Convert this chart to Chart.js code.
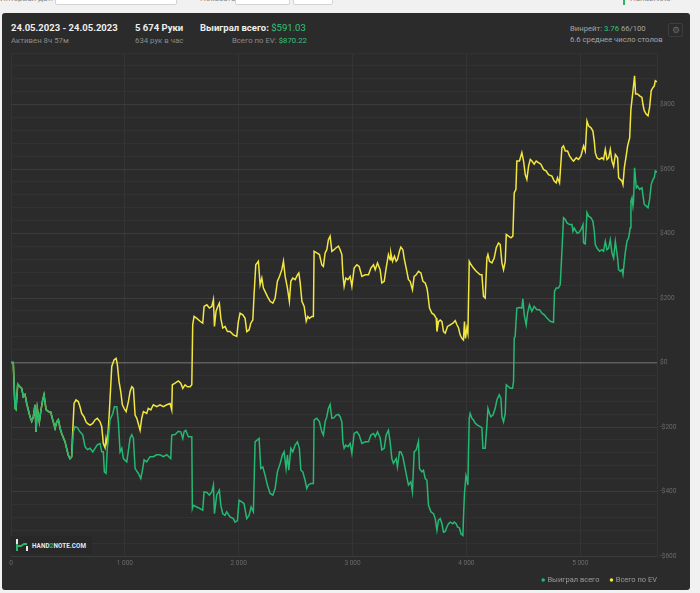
<!DOCTYPE html>
<html lang="ru">
<head>
<meta charset="utf-8">
<title>Hand2Note - график</title>
<script src="https://cdn.jsdelivr.net/npm/chart.js@4.4.1/dist/chart.umd.min.js"></script>
<style>
  body { margin: 0; width: 700px; height: 593px; overflow: hidden; position: relative; background: #f1f1f1; font-family: Roboto, "Noto Sans", Arial, sans-serif; }
  .top { position: absolute; top: -6px; font-size: 8px; color: #8a8a8a; white-space: nowrap; }
  .btn { position: absolute; top: -9px; height: 14px; background: #fff; border: 1px solid #d4d4d4; border-radius: 2px; box-sizing: border-box; }
  #panel { position: absolute; left: 2px; top: 13px; width: 688px; height: 577px; background: #2b2b2b; border-radius: 3px; }
  .t { position: absolute; white-space: nowrap; line-height: 1; }
  .big { font-size: 9.5px; font-weight: bold; color: #eeeeee; }
  .small { font-size: 7.8px; color: #8c8c8c; }
  .right { font-size: 7.7px; color: #a5a5a5; }
  .g { color: #33c47b; font-weight: normal; }
  #gear { position: absolute; left: 668px; top: 23px; width: 15px; height: 14px; border: 1px solid #3d3d3d; border-radius: 2px; box-sizing: border-box; color: #6a6a6a; font-size: 9px; line-height: 12px; text-align: center; }
  #logo { position: absolute; left: 11px; top: 536px; width: 81px; height: 18px; background: #282828; }
  #logo span { position: absolute; left: 21px; top: 6px; font-size: 6.3px; font-weight: bold; color: #e8e8e8; letter-spacing: 0.1px; }
  #wrap { position: absolute; left: 0; top: 40px; width: 690px; height: 559px; }
</style>
</head>
<body>
<!-- кусок панели инструментов сверху, обрезан -->
<div class="top" style="left:0">Интервал дат:</div>
<div class="btn" style="left:55px;width:122px"></div>
<div class="top" style="left:200px">Показать:</div>
<div class="btn" style="left:235px;width:55px"></div>
<div class="btn" style="left:293px;width:40px"></div>
<div style="position:absolute;left:623px;top:-2px;width:2px;height:7px;background:#2fb36a"></div>
<div class="top" style="left:630px">Hand2Note</div>

<div id="panel"></div>

<div class="t big" style="left:11px;top:23px">24.05.2023 - 24.05.2023</div>
<div class="t small" style="left:11px;top:37px">Активен 8ч 57м</div>
<div class="t big" style="left:135px;top:23px">5 674 Руки</div>
<div class="t small" style="left:135px;top:37px">634 рук в час</div>
<div class="t big" style="left:200px;top:23px">Выиграл всего: <span class="g">$591.03</span></div>
<div class="t small" style="right:393px;top:37px">Всего по EV: <span class="g">$870.22</span></div>
<div class="t right" style="left:570px;top:25px">Винрейт: <span class="g">3.76</span> 66/100</div>
<div class="t right" style="left:570px;top:36px">6.6 среднее число столов</div>
<div id="gear">&#9881;</div>

<div id="wrap"><canvas id="graph"></canvas></div>

<div id="logo">
  <svg width="14" height="14" style="position:absolute;left:4px;top:2px" viewBox="0 0 14 14">
    <path d="M2 1 V6" stroke="#e8e8e8" stroke-width="2" fill="none"/>
    <path d="M2 6 V13 M2 8 H6 L9 6 H12" stroke="#2fb36a" stroke-width="2" fill="none"/>
    <path d="M12 8 V13" stroke="#e8e8e8" stroke-width="2" fill="none"/>
  </svg>
  <span>HAND<span style="position:static;color:#2fb36a">2</span>NOTE.COM</span>
</div>

<script>
// Выиграл всего: руки / доллары
const wonHands = [
  0,20,35,44,59,79,94,108,123,138,
  167,182,196,211,220,231,249,261,279,290,
  308,328,349,366,387,402,416,431,445,475,
  503,518,533,547,562,583,606,630,650,671,
  694,718,738,758,782,797,811,820,835,846,
  870,894,908,929,943,958,973,987,1017,1046,
  1061,1075,1090,1119,1140,1157,1169,1192,1221,1250,
  1280,1309,1338,1368,1403,1412,1441,1470,1491,1509,
  1520,1535,1558,1588,1593,1602,1632,1661,1684,1696,
  1720,1742,1764,1778,1787,1807,1830,1843,1860,1880,
  1895,1924,1953,1968,1989,2003,2027,2047,2071,2091,
  2109,2129,2144,2164,2179,2194,2212,2232,2252,2276,
  2300,2320,2340,2364,2384,2399,2416,2428,2440,2458,
  2475,2496,2516,2533,2546,2563,2583,2598,2612,2634,
  2656,2662,2686,2709,2730,2744,2759,2774,2788,2803,
  2818,2838,2856,2876,2891,2906,2915,2926,2941,2959,
  2979,2994,3014,3038,3058,3082,3111,3140,3161,3184,
  3199,3219,3242,3257,3278,3295,3315,3330,3345,3359,
  3383,3394,3412,3424,3442,3462,3491,3512,3526,3541,
  3559,3570,3579,3588,3609,3623,3638,3653,3667,3688,
  3711,3726,3741,3755,3770,3785,3799,3814,3828,3843,
  3858,3881,3893,3910,3922,3939,3952,3969,3974,3983,
  3996,4004,4013,4018,4025,4033,4048,4062,4077,4097,
  4121,4136,4145,4165,4180,4189,4203,4215,4233,4253,
  4268,4288,4303,4312,4326,4341,4350,4370,4385,4405,
  4414,4420,4428,4443,4466,4487,4496,4508,4525,4537,
  4554,4575,4595,4619,4642,4663,4684,4707,4736,4765,
  4774,4789,4809,4824,4839,4853,4868,4883,4906,4927,
  4936,4947,4971,4985,5006,5024,5029,5044,5059,5073,
  5094,5111,5123,5132,5147,5169,5190,5205,5220,5235,
  5249,5264,5278,5293,5308,5328,5337,5351,5366,5375,
  5387,5395,5410,5425,5439,5445,5454,5463,5468,5477,
  5492,5503,5521,5542,5550,5562,5580,5595,5609,5623,
  5639,5650,5659,5674
];
const wonValues = [
  0,0,-142,-146,-67,-75,-80,-106,-99,-127,
  -168,-182,-168,-131,-215,-142,-184,-152,-115,-100,
  -146,-152,-154,-177,-204,-184,-177,-204,-220,-246,
  -287,-298,-292,-215,-199,-202,-215,-224,-261,-270,
  -266,-277,-266,-255,-251,-277,-277,-339,-344,-266,
  -177,-158,-137,-137,-184,-277,-266,-298,-308,-235,
  -224,-235,-329,-344,-360,-329,-302,-308,-292,-292,
  -286,-286,-292,-286,-298,-225,-223,-213,-215,-236,
  -215,-210,-230,-230,-453,-443,-448,-453,-458,-401,
  -403,-411,-401,-380,-469,-411,-396,-443,-469,-474,
  -463,-479,-484,-495,-490,-427,-432,-438,-484,-474,
  -448,-463,-246,-240,-235,-329,-324,-350,-380,-406,
  -411,-391,-339,-313,-287,-277,-329,-287,-334,-266,
  -277,-256,-246,-266,-334,-339,-365,-391,-380,-375,
  -375,-178,-173,-184,-215,-225,-184,-168,-142,-130,
  -173,-171,-163,-161,-168,-184,-246,-266,-256,-261,
  -251,-282,-220,-215,-225,-251,-246,-246,-225,-220,
  -230,-215,-233,-271,-266,-225,-210,-246,-298,-313,
  -298,-324,-277,-277,-292,-329,-380,-370,-401,-277,
  -271,-256,-244,-329,-339,-334,-360,-365,-443,-463,
  -469,-484,-520,-489,-484,-500,-526,-524,-510,-500,
  -495,-500,-495,-500,-510,-513,-531,-536,-484,-406,
  -350,-360,-380,-287,-173,-158,-173,-178,-188,-194,
  -199,-202,-266,-266,-194,-142,-158,-168,-163,-142,
  -116,-100,-111,-168,-184,-158,-69,-75,-80,-80,
  -59,76,81,169,171,169,198,148,117,153,
  179,159,174,164,164,153,148,138,128,125,
  221,231,231,242,345,449,444,433,428,428,
  407,417,402,402,412,428,371,368,465,454,
  449,438,408,366,355,345,350,345,376,350,
  355,381,340,324,376,324,288,283,288,273,
  314,340,376,387,418,501,511,485,501,604,
  542,547,537,542,521,491,485,480,506,552,
  568,573,594,591
];

// Всего по EV: руки / доллары
const evHands = [
  0,20,35,44,59,79,94,108,123,138,
  167,182,196,211,220,231,249,261,279,290,
  308,328,349,366,387,402,416,431,445,475,
  503,518,533,542,554,571,591,606,621,641,
  659,671,694,718,738,758,782,797,811,826,
  835,846,864,885,905,923,934,949,964,978,
  993,1011,1031,1046,1061,1075,1090,1105,1134,1148,
  1163,1192,1206,1228,1250,1280,1309,1338,1368,1397,
  1412,1417,1441,1470,1491,1509,1529,1549,1573,1588,
  1596,1608,1632,1661,1684,1696,1720,1742,1764,1778,
  1787,1801,1816,1830,1843,1860,1880,1901,1924,1953,
  1983,1997,2012,2036,2056,2071,2091,2106,2124,2135,
  2150,2173,2188,2203,2217,2232,2252,2276,2300,2320,
  2340,2358,2379,2393,2408,2428,2445,2458,2475,2496,
  2516,2528,2540,2555,2575,2593,2607,2621,2642,2656,
  2662,2686,2709,2730,2744,2759,2774,2788,2803,2818,
  2838,2856,2876,2891,2906,2915,2926,2941,2959,2979,
  2994,3014,3038,3058,3082,3111,3140,3161,3184,3199,
  3219,3242,3257,3278,3295,3315,3330,3336,3351,3368,
  3383,3394,3412,3424,3442,3453,3471,3491,3506,3526,
  3541,3559,3579,3600,3618,3638,3653,3658,3676,3697,
  3717,3735,3741,3755,3770,3785,3799,3814,3834,3858,
  3881,3902,3917,3931,3945,3960,3974,3983,3992,4004,
  4013,4025,4040,4062,4086,4121,4136,4150,4165,4180,
  4189,4203,4224,4244,4262,4282,4297,4312,4326,4341,
  4350,4370,4391,4408,4420,4435,4443,4466,4487,4502,
  4517,4531,4546,4561,4575,4595,4613,4633,4654,4677,
  4701,4721,4751,4771,4789,4800,4818,4839,4853,4868,
  4888,4906,4927,4941,4965,4985,5006,5029,5044,5059,
  5073,5094,5111,5123,5132,5147,5169,5190,5205,5220,
  5235,5249,5264,5278,5293,5308,5328,5337,5351,5366,
  5375,5387,5405,5416,5434,5445,5463,5477,5486,5503,
  5521,5542,5550,5562,5580,5595,5609,5623,5639,5650,
  5659,5674
];
const evValues = [
  0,0,-142,-146,-67,-75,-80,-106,-99,-127,
  -168,-182,-168,-131,-215,-142,-184,-152,-115,-100,
  -146,-152,-154,-177,-204,-184,-177,-204,-220,-246,
  -287,-298,-292,-215,-127,-116,-121,-137,-158,-168,
  -184,-189,-194,-189,-178,-173,-184,-199,-251,-264,
  -235,-256,-152,-12,8,13,-6,-59,-90,-131,
  -142,-152,-121,-90,-75,-80,-163,-173,-210,-173,
  -152,-158,-142,-147,-131,-137,-131,-137,-131,-127,
  -147,-69,-64,-57,-64,-80,-69,-75,-75,-69,
  117,143,137,128,122,174,179,169,174,195,
  112,159,174,184,137,107,112,96,96,86,
  81,127,153,148,137,96,101,122,132,210,
  303,314,241,262,231,220,205,190,184,200,
  252,267,288,314,267,231,190,252,262,257,
  272,278,247,190,174,128,143,137,143,143,
  345,340,335,303,298,340,350,381,392,345,
  350,356,361,350,335,273,236,262,257,267,
  236,293,303,298,267,272,272,293,303,288,
  309,288,247,252,293,335,319,340,314,330,
  314,319,345,358,350,324,293,257,252,226,
  267,272,283,278,252,247,231,221,169,153,
  148,137,96,127,132,127,96,91,112,117,
  122,130,117,107,86,75,70,127,75,107,
  91,314,304,293,283,272,272,205,200,324,
  335,314,309,324,356,371,366,309,288,314,
  397,392,387,392,526,537,625,625,651,625,
  583,568,609,630,625,615,625,620,615,599,
  594,583,578,563,557,573,557,667,672,656,
  656,641,630,625,635,630,641,672,656,749,
  734,728,718,687,651,635,630,635,630,661,
  630,635,661,625,609,645,635,573,568,563,
  552,604,645,672,697,786,843,889,833,833,
  827,822,801,781,770,765,791,843,853,858,
  874,870
];

// оси: вертикальные линии и подписи рук, горизонтальная сетка каждые $40
const xTicks = [0, 1000, 2000, 3000, 4000, 5000, 5674];
const xTickLabels = ['0', '1 000', '2 000', '3 000', '4 000', '5 000', ''];
const yGrid = [-600, -560, -520, -480, -440, -400, -360, -320, -280, -240, -200, -160, -120, -80, -40,
               0, 40, 80, 120, 160, 200, 240, 280, 320, 360, 400, 440, 480, 520, 560, 600, 640, 680,
               720, 760, 800, 840, 880, 920, 960];
const yLabelValues = [-600, -400, -200, 0, 200, 400, 600, 800];
const yLabels = ['-$600', '-$400', '-$200', '$0', '$200', '$400', '$600', '$800'];

function toPoints(hands, values) {
    const n = Math.min(hands.length, values.length);
    const pts = [];
    for (let i = 0; i < n; i++) {
        pts.push({ x: hands[i], y: values[i] });
    }
    return pts;
}

const green = '#25b872';
const yellow = '#f2e640';
const legendPad = 11.5;
const legendFont = 7.5;

// легенда: последняя подпись заканчивается у правого края графика, на 24px ниже оси
const legendPlace = {
    id: 'legendPlace',
    afterLayout(chart) {
        const lg = chart.legend;
        if (!lg) return;
        const area = chart.chartArea;
        const dx = area.right - (lg.right - legendPad);
        const dy = (area.bottom + 24) - (lg.top + legendPad + legendFont / 2);
        lg.left += dx; lg.right += dx;
        lg.top += dy; lg.bottom += dy;
    }
};

new Chart(document.getElementById('graph'), {
    type: 'line',
    data: {
        datasets: [{
            label: 'Выиграл всего',
            data: toPoints(wonHands, wonValues),
            borderColor: green,
            backgroundColor: green,
            borderWidth: 1.5,
            pointRadius: 0
        },
        {
            label: 'Всего по EV',
            data: toPoints(evHands, evValues),
            borderColor: yellow,
            backgroundColor: yellow,
            borderWidth: 1.5,
            pointRadius: 0
        }]
    },
    options: {
        responsive: true,
        maintainAspectRatio: false,
        animation: false,
        layout: { padding: { left: 11, top: 13, right: 0, bottom: 0 } },
        scales: {
            x: {
                type: 'linear',
                min: xTicks[0],
                max: xTicks[xTicks.length - 1],
                border: { display: false },
                grid: { color: '#343434', drawTicks: false },
                afterBuildTicks: function (scale) {
                    scale.ticks = xTicks.map(function (v) { return { value: v }; });
                },
                ticks: {
                    autoSkip: false,
                    maxRotation: 0,
                    padding: 3,
                    color: '#6b6b6b',
                    font: { size: 6.5, family: 'Roboto' },
                    callback: function (value) {
                        const i = xTicks.indexOf(value);
                        return i < 0 ? '' : xTickLabels[i];
                    }
                },
                afterFit: function (scale) { scale.height = 14; }
            },
            y: {
                position: 'right',
                min: yGrid[0],
                max: yGrid[yGrid.length - 1],
                border: { display: false },
                afterBuildTicks: function (scale) {
                    scale.ticks = yGrid.map(function (v) { return { value: v }; });
                },
                grid: {
                    drawTicks: false,
                    color: function (c) {
                        if (!c.tick) return '#323232';
                        if (c.tick.value === 0) return '#5e5e5e';
                        return yLabelValues.indexOf(c.tick.value) >= 0 ? '#3c3c3c' : '#323232';
                    },
                    lineWidth: function (c) { return c.tick && c.tick.value === 0 ? 1.5 : 1; }
                },
                ticks: {
                    autoSkip: false,
                    padding: 3,
                    color: '#6b6b6b',
                    font: { size: 6.5, family: 'Roboto' },
                    callback: function (value) {
                        const i = yLabelValues.indexOf(value);
                        return i < 0 ? '' : yLabels[i];
                    }
                },
                afterFit: function (scale) { scale.width = 33; }
            }
        },
        plugins: {
            legend: {
                position: 'bottom',
                align: 'end',
                labels: {
                    usePointStyle: true,
                    pointStyle: 'circle',
                    boxWidth: 1,
                    boxHeight: 2.5,
                    padding: legendPad,
                    color: '#9a9a9a',
                    font: { size: legendFont, family: 'Roboto' },
                    generateLabels: function (chart) {
                        const items = Chart.defaults.plugins.legend.labels.generateLabels(chart);
                        items.forEach(function (it) { it.lineWidth = 0; });
                        return items;
                    }
                }
            },
            tooltip: { enabled: false }
        }
    },
    plugins: [legendPlace]
});
</script>
</body>
</html>
